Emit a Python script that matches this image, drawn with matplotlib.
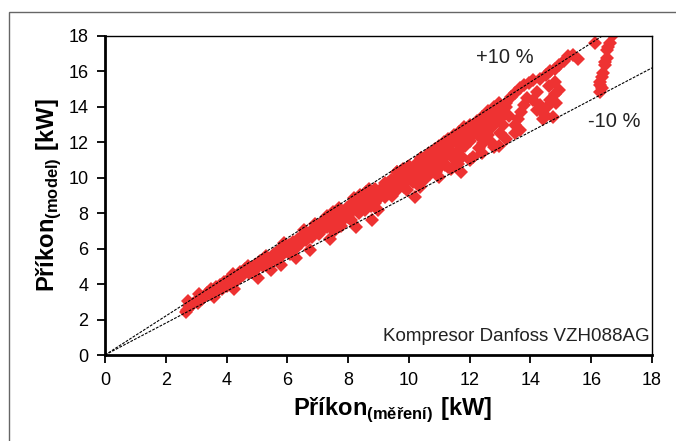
import matplotlib
matplotlib.use("Agg")
import matplotlib.pyplot as plt
import numpy as np
from matplotlib.patches import Rectangle

merene = [
    2.65, 2.7, 2.75, 2.72, 2.8, 2.9, 3.0, 3.05, 3.1, 3.15, 3.2, 3.3,
    3.35, 3.45, 3.5, 3.6, 3.6, 3.65, 3.75, 3.8, 3.85, 3.9, 4.0, 4.05,
    4.1, 4.15, 4.2, 4.25, 4.3, 4.4, 4.45, 4.55, 4.6, 4.7, 4.75, 4.8, 4.9, 4.95, 5.05, 5.05,
    5.1, 5.2, 5.25, 5.3, 5.35, 5.45, 5.5, 5.55, 5.6, 5.7, 5.8, 5.8, 5.85, 5.9, 5.95, 6.05, 6.1,
    6.2, 6.3, 6.3, 6.35, 6.45, 6.5, 6.55, 6.6, 6.65, 6.75, 6.8, 6.85, 6.9, 7.0, 7.05, 7.1,
    7.15, 7.25, 7.3, 7.4, 7.4, 7.45, 7.5, 7.55, 7.6, 7.7, 7.75, 7.8, 7.9, 7.95, 8.05, 8.05,
    8.1, 8.2, 8.25, 8.3, 8.35, 8.45, 8.5, 8.55, 8.6, 8.65, 8.75, 8.8, 8.8, 8.9, 8.95, 9.0,
    9.05, 9.15, 9.2, 9.3, 9.35, 9.45, 9.5, 9.55, 9.65, 9.7, 9.75, 9.85, 9.9, 9.95, 10.0, 10.05,
    10.15, 10.2, 10.2, 10.25, 10.35, 10.35, 10.45, 10.5, 10.55, 10.6, 10.7, 10.75, 10.8, 10.9, 10.95, 11.0,
    11.05, 11.1, 11.2, 11.25, 11.35, 11.4, 11.45, 11.55, 11.6, 11.7, 11.7, 11.75, 11.85, 11.9, 12.0, 12.1,
    12.15, 12.2, 12.3, 12.35, 12.45, 12.45, 12.5, 12.6, 12.65, 12.7, 12.75, 12.85, 12.9, 12.95, 13.0, 13.05,
    13.1, 13.2, 13.3, 13.35, 13.5, 13.5, 13.6, 13.65, 13.65, 13.7, 13.8, 13.8, 13.9, 13.95,
    14.1, 14.3, 14.5, 14.65, 14.8, 14.95, 15.1, 15.25, 15.4, 15.55,
    14.1, 14.2, 14.2, 14.3, 14.4, 14.45, 14.55, 14.65, 14.75, 14.8, 14.85, 14.95, 14.8, 14.6,
    16.12, 16.73, 16.62, 16.55, 16.51, 16.51, 16.45, 16.45, 16.4, 16.35, 16.29, 16.3, 16.34, 16.29,
    12.4, 12.8, 13.2, 11.3, 11.8, 10.4, 9.6, 12.0,
    6.9, 7.3, 7.7, 8.2, 8.4, 8.7, 7.1, 7.6, 8.0, 8.4, 8.9,
    9.2, 9.4, 9.6, 9.8, 10.0, 10.1, 10.3, 10.4, 10.65, 10.85, 11.0, 11.15, 11.3, 11.5, 11.65,
    11.8, 12.0, 12.25, 12.4, 12.6, 12.8, 12.95,
    9.1, 9.4, 9.8, 10.1, 10.4, 10.65, 10.9, 11.15, 11.4, 11.6, 11.9, 12.1, 12.3, 12.55, 12.8, 13.0,
    10.3, 10.6, 10.9, 11.3, 11.6, 12.0, 12.4, 12.8, 13.2, 13.5,
]
model = [
    2.4, 2.55, 2.75, 3.05, 2.9, 2.85, 3.05, 2.95, 3.45, 3.2, 3.15, 3.35,
    3.5, 3.45, 3.7, 3.25, 3.55, 3.85, 3.7, 3.95, 3.75, 4.1, 3.9, 4.25,
    4.0, 4.4, 4.55, 3.7, 4.2, 4.35, 4.7, 4.5, 4.85, 5.05, 4.6, 4.9, 4.75, 5.1, 4.35, 5.0,
    5.3, 5.0, 5.5, 5.6, 5.2, 4.8, 5.45, 5.7, 5.35, 5.85, 5.1, 5.6, 6.1, 6.3, 5.85, 6.2, 5.7,
    6.35, 5.45, 6.05, 6.55, 6.3, 6.75, 7.05, 6.5, 6.85, 5.95, 6.65, 7.1, 6.9, 7.25, 6.8, 7.45,
    7.1, 7.55, 7.2, 6.55, 7.8, 7.4, 8.05, 7.0, 7.65, 7.9, 7.3, 8.15, 7.75, 8.3, 8.0, 8.45,
    7.6, 8.25, 7.25, 8.6, 8.0, 8.45, 8.85, 8.2, 9.2, 8.65, 8.4, 7.6, 9.0, 9.35, 8.75, 8.2,
    9.15, 9.5, 8.9, 9.7, 9.3, 8.95, 9.6, 9.95, 9.35, 10.1, 9.8, 9.5, 10.2, 9.3, 9.95, 10.4,
    9.75, 8.9, 10.6, 10.15, 10.8, 9.5, 10.4, 9.9, 11.0, 10.6, 10.2, 11.2, 10.8, 11.45, 10.5, 10.05,
    11.0, 11.6, 10.7, 11.3, 11.85, 10.5, 11.1, 12.05, 11.5, 10.3, 12.25, 11.2, 11.8, 12.6, 12.1, 11.2,
    12.5, 12.9, 11.7, 12.3, 11.95, 13.1, 12.7, 12.4, 13.4, 12.0, 12.85, 13.55, 13.2, 11.8, 12.5, 13.85,
    13.0, 14.2, 13.5, 14.55, 14.8, 13.0, 13.3, 15.05, 12.7, 13.7, 15.25, 14.1, 14.5, 15.35,
    15.5, 15.6, 15.8, 16.0, 16.15, 16.35, 16.6, 16.85, 16.9, 16.7,
    14.4, 14.85, 13.85, 14.1, 13.3, 13.6, 14.0, 14.4, 13.45, 14.75, 14.2, 14.95, 15.4, 15.15,
    17.59, 18.06, 17.59, 17.4, 17.21, 16.74, 16.55, 16.36, 15.9, 15.7, 15.42, 15.25, 15.05, 14.86,
    13.3, 13.7, 14.0, 12.1, 12.5, 11.1, 10.3, 12.9,
    7.4, 7.85, 8.3, 8.85, 9.0, 9.35, 7.0, 7.4, 7.8, 8.2, 8.6,
    9.7, 9.9, 10.3, 10.5, 10.65, 10.3, 10.9, 11.1, 11.4, 11.65, 11.8, 12.0, 12.2, 12.4, 12.6,
    12.85, 13.0, 13.2, 13.45, 13.75, 14.0, 14.2,
    9.2, 9.4, 10.0, 10.0, 10.5, 10.7, 10.9, 11.2, 11.5, 11.9, 12.0, 12.4, 12.6, 12.9, 13.1, 13.3,
    9.9, 10.1, 10.3, 10.6, 10.8, 11.0, 11.4, 11.75, 12.2, 12.5,
]

bounds = [1.1, 0.9]          # +10 % / -10 % lines
bound_labels = ["+10 %", "-10 %"]
ticks = np.arange(0, 19, 2)

plt.rcParams["font.family"] = ["Liberation Sans", "DejaVu Sans"]
plt.rcParams["mathtext.fontset"] = "custom"
plt.rcParams["mathtext.rm"] = "Liberation Sans"
plt.rcParams["mathtext.bf"] = "Liberation Sans:bold"

fig = plt.figure(figsize=(6.76, 4.41), dpi=100)
ax = fig.add_axes([0.1553, 0.195, 0.8092, 0.7234])

# outer frame of the original picture
fig.patches.append(Rectangle((9 / 676, -0.1), 1.2, 0.1 + 1 - 12 / 441,
                             transform=fig.transFigure, fill=False,
                             edgecolor="#666666", lw=1.0))

xs = np.array([0, 18])
for k in bounds:
    ax.plot(xs, k * xs, color="black", lw=0.8, dashes=(2.5, 1.2), zorder=3)

ax.plot(merene, model, linestyle="none", marker="D", ms=7.2,
        color="#EE3232", markeredgewidth=0, zorder=2)

ax.set_xlim(0, 18)
ax.set_ylim(0, 18)
ax.set_xticks(ticks)
ax.set_yticks(ticks)
ax.tick_params(direction="out", length=6, width=1.3, labelsize=13, pad=6)
for s in ["left", "bottom"]:
    ax.spines[s].set_linewidth(2.0)
for s in ["top", "right"]:
    ax.spines[s].set_linewidth(1.0)

ax.text(13.16, 16.76, bound_labels[0], fontsize=14.5, ha="center", va="center",
        color="#222222")
ax.text(16.75, 13.2, bound_labels[1], fontsize=14.5, ha="center", va="center",
        color="#222222")
ax.text(17.93, 0.55, "Kompresor Danfoss VZH088AG", fontsize=13.5, ha="right",
        va="bottom", color="#222222")

ax.set_xlabel(r"$\mathbf{Příkon}_{\mathbf{(měření)}}\ \mathbf{[kW]}$", fontsize=17)
ax.xaxis.set_label_coords(0.525, -0.125)
ax.set_ylabel(r"$\mathbf{Příkon}_{\mathbf{(model)}}\ \mathbf{[kW]}$", fontsize=17, labelpad=4)

fig.savefig("out.png", dpi=100)
